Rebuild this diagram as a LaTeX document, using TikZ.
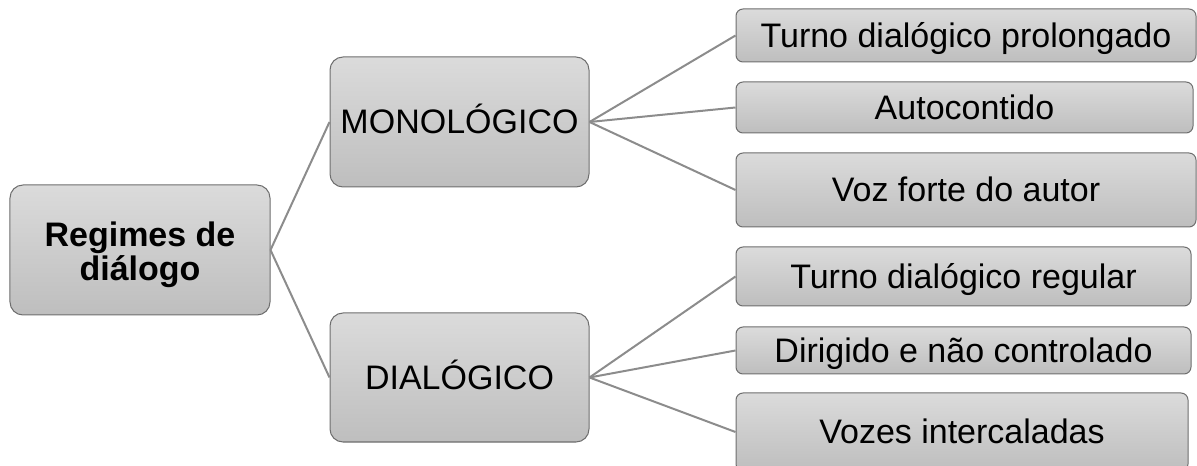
\documentclass[tikz,border=0pt]{standalone}
\usepackage{fontspec}
\setmainfont{Liberation Sans}
\definecolor{boxtop}{RGB}{219,219,219}
\definecolor{boxbot}{RGB}{190,190,190}
\definecolor{boxedge}{RGB}{110,110,110}
\definecolor{linkgray}{RGB}{140,140,140}
\begin{document}
\begin{tikzpicture}[x=1bp,y=1bp,
  box/.style={draw=boxedge, line width=1bp, top color=boxtop, bottom color=boxbot,
    inner sep=0pt, text=black, font=\fontsize{34bp}{30bp}\selectfont},
  single/.style={text height=30.6bp, text depth=7.5bp},
  bigbox/.style={box, rounded corners=13bp},
  leafbox/.style={box, single, rounded corners=7bp},
  title/.style={align=center, inner sep=0pt, text=black,
    font=\fontsize{34bp}{30bp}\selectfont\bfseries},
  link/.style={draw=linkgray, line width=2bp}]
  \useasboundingbox (0,0) rectangle (1197,-466);
  \clip (0,0) rectangle (1197,-466);

  % root and the two regimes
  \node[bigbox, minimum width=260bp, minimum height=130bp]
    (root) at (140,-250) {};
  \node[title] (roottext) at ([yshift=-4.5bp]root.center) {Regimes de\\[1bp]diálogo};
  \node[bigbox, single, minimum width=259bp, minimum height=130bp]
    (mono) at (459.5,-122) {MONOLÓGICO};
  \node[bigbox, single, minimum width=259bp, minimum height=129bp]
    (dial) at (459.5,-377.5) {DIALÓGICO};

  % features of the monological regime
  \node[leafbox, minimum width=460bp, minimum height=53bp]
    (m1) at (966,-35.5) {Turno dialógico prolongado};
  \node[leafbox, minimum width=457bp, minimum height=51bp]
    (m2) at (964.5,-107.5) {Autocontido};
  \node[leafbox, minimum width=460bp, minimum height=74bp]
    (m3) at (966,-190) {Voz forte do autor};

  % features of the dialogical regime
  \node[leafbox, minimum width=455bp, minimum height=59bp]
    (d1) at (963.5,-276.5) {Turno dialógico regular};
  \node[leafbox, minimum width=455bp, minimum height=47bp]
    (d2) at (963.5,-350.5) {Dirigido e não controlado};
  \node[leafbox, minimum width=452bp, minimum height=78bp]
    (d3) at (962,-432) {Vozes intercaladas};

  % connectors
  \draw[link] (root.east) -- (mono.west);
  \draw[link] (root.east) -- (dial.west);
  \foreach \leaf in {m1,m2,m3}
    \draw[link] (mono.east) -- (\leaf.west);
  \foreach \leaf in {d1,d2,d3}
    \draw[link] (dial.east) -- (\leaf.west);
\end{tikzpicture}
\end{document}
